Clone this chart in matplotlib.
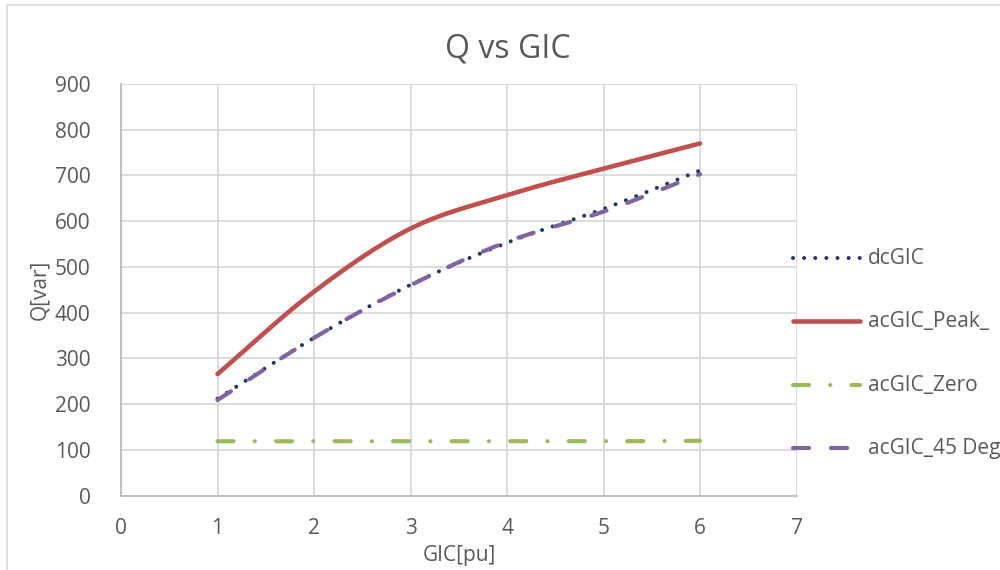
import numpy as np
import matplotlib
matplotlib.use("Agg")
import matplotlib.pyplot as plt
from matplotlib.lines import Line2D
from matplotlib.patches import Rectangle

# Data
gic = [1, 2, 3, 4, 5, 6]
dc_gic = [212, 345, 461, 553, 627, 711]
ac_peak = [266, 446, 584, 657, 715, 770]
ac_zero = [119, 119, 119, 119, 119, 120]
ac_45deg = [209, 345, 460, 555, 621, 703]

series_names = ["dcGIC", "acGIC_Peak_", "acGIC_Zero", "acGIC_45 Deg"]
x_ticks = [0, 1, 2, 3, 4, 5, 6, 7]
y_ticks = [0, 100, 200, 300, 400, 500, 600, 700, 800, 900]

TEXT = "#595959"
GRID = "#D9D9D9"
FONT = "Open Sans"
FS = 15


def smooth(xs, ys, n=30):
    """Catmull-Rom curve through the points, like a smoothed spreadsheet line."""
    xs = np.asarray(xs, float)
    ys = np.asarray(ys, float)
    px = np.concatenate([[2 * xs[0] - xs[1]], xs, [2 * xs[-1] - xs[-2]]])
    py = np.concatenate([[2 * ys[0] - ys[1]], ys, [2 * ys[-1] - ys[-2]]])
    ox, oy = [], []
    t = np.linspace(0, 1, n, endpoint=False)
    for i in range(1, len(px) - 2):
        for p, out in ((px, ox), (py, oy)):
            p0, p1, p2, p3 = p[i - 1], p[i], p[i + 1], p[i + 2]
            out.extend(0.5 * ((2 * p1) + (-p0 + p2) * t
                              + (2 * p0 - 5 * p1 + 4 * p2 - p3) * t ** 2
                              + (-p0 + 3 * p1 - 3 * p2 + p3) * t ** 3))
    ox.append(xs[-1])
    oy.append(ys[-1])
    return np.array(ox), np.array(oy)


styles = [
    dict(color="#203864", lw=2.9, linestyle=(0, (0.01, 2.75)),
         dash_capstyle="round", solid_capstyle="round"),
    dict(color="#C0504D", lw=3.3, linestyle="-", solid_capstyle="round"),
    dict(color="#9BBB59", lw=3.0, linestyle=(0, (3.84, 5.1, 0.01, 5.1)),
         dash_capstyle="round"),
    dict(color="#8064A2", lw=3.0, linestyle=(0, (3.84, 5.3)),
         dash_capstyle="round"),
]

W, H = 1000, 570
fig = plt.figure(figsize=(W / 100, H / 100), dpi=100)

# Chart-area border (runs off the right and bottom edges)
fig.add_artist(Rectangle((7 / W, -0.1), 1.2, 1 - 5 / H + 0.1,
                         transform=fig.transFigure, fill=False,
                         edgecolor="#D9D9D9", lw=1.2))

left, right, top, bottom = 121, 796.5, 84, 495.7
ax = fig.add_axes([left / W, 1 - bottom / H, (right - left) / W, (bottom - top) / H])

all_series = [dc_gic, ac_peak, ac_zero, ac_45deg]
# peak first, then zero, 45 deg, and the dotted dc series on top
for idx in [1, 2, 3, 0]:
    sx, sy = smooth(gic, all_series[idx])
    ax.plot(sx, sy, zorder=3 + idx * 0.1, **styles[idx])

ax.set_xlim(0, 7)
ax.set_ylim(0, 900)
ax.set_xticks(x_ticks)
ax.set_yticks(y_ticks)
ax.grid(True, color=GRID, lw=1.3)
ax.set_axisbelow(True)
for s in ["top", "right"]:
    ax.spines[s].set_visible(False)
for s in ["left", "bottom"]:
    ax.spines[s].set_color("#BFBFBF")
    ax.spines[s].set_linewidth(1.4)
ax.tick_params(length=0, labelsize=FS, labelcolor=TEXT)
ax.tick_params(axis="y", pad=22)
ax.tick_params(axis="x", pad=16)
for lab in ax.get_xticklabels() + ax.get_yticklabels():
    lab.set_fontfamily(FONT)

fig.text(508 / W, 1 - 49 / H, "Q vs GIC", ha="center", va="center",
         fontsize=23, color=TEXT, family=FONT)
fig.text(459 / W, 1 - 556 / H, "GIC[pu]", ha="center", va="center",
         fontsize=FS, color=TEXT, family=FONT)
fig.text(40 / W, 1 - 290 / H, "Q[var]", ha="center", va="center",
         rotation=90, fontsize=FS, color=TEXT, family=FONT)

# Legend on the right
leg_y = [258.3, 321, 385, 448.3]
for name, st, y in zip(series_names, styles, leg_y):
    fig.add_artist(Line2D([793 / W, 860 / W], [1 - y / H, 1 - y / H],
                          transform=fig.transFigure, **st))
    fig.text(868 / W, 1 - y / H, name, ha="left", va="center",
             fontsize=FS, color=TEXT, family=FONT)

fig.savefig("out.png", dpi=100)
